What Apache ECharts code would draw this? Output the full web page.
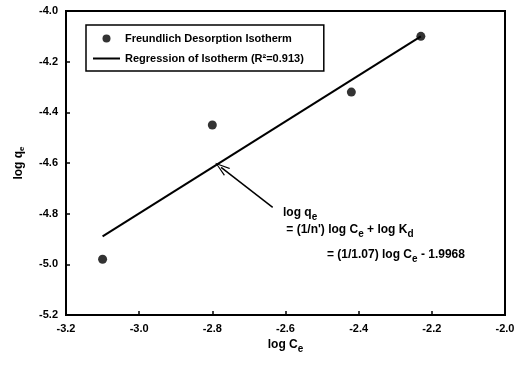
<!DOCTYPE html>
<html>
<head>
  <meta charset="utf-8">
  <title>Freundlich isotherm</title>
  <script src="https://cdn.jsdelivr.net/npm/echarts@6/dist/echarts.min.js"></script>
  <style>
    html, body { margin: 0; padding: 0; background: #fff; }
    #chart { width: 521px; height: 368px; }
  </style>
</head>
<body>
<div id="chart"></div>
<script>
  // data
  var logCe = [-3.10, -2.80, -2.42, -2.23];
  var logQe = [-4.98, -4.45, -4.32, -4.10];
  // regression line ends
  var fitX = [-3.10, -2.23];
  var fitY = [-4.89, -4.10];
  // arrow from the equation to the line (end pulled back so the head sits on the line)
  var arrowFrom = [-2.635, -4.775];
  var arrowTo = [-2.776, -4.617];
  var xTicks = [-3.2, -3.0, -2.8, -2.6, -2.4, -2.2, -2.0];
  var yTicks = [-5.2, -5.0, -4.8, -4.6, -4.4, -4.2, -4.0];

  var font = '"Liberation Sans", Arial, sans-serif';
  var chart = echarts.init(document.getElementById('chart'));

  var pts = logCe.map(function (x, i) { return [x, logQe[i]]; });
  var fit = fitX.map(function (x, i) { return [x, fitY[i]]; });

  var axisCommon = {
    axisLine: { show: true, onZero: false, lineStyle: { color: '#000', width: 2 } },
    axisTick: { show: true, inside: true, length: 4, lineStyle: { color: '#000', width: 1.5 } },
    splitLine: { show: false },
    axisLabel: {
      color: '#000', fontFamily: font, fontWeight: 'bold', fontSize: 11,
      formatter: function (v) { return v.toFixed(1); }
    },
    nameLocation: 'middle',
    nameTextStyle: { color: '#000', fontFamily: font, fontWeight: 'bold', fontSize: 12 }
  };

  var option = {
    animation: false,
    grid: { left: 66, right: 16, top: 11, bottom: 53, show: true, borderColor: '#000', borderWidth: 2 },
    xAxis: Object.assign({}, axisCommon, {
      type: 'value', min: xTicks[0], max: xTicks[xTicks.length - 1], interval: 0.2,
      name: '{n|log C}{s|e}', nameGap: 18,
      nameTextStyle: {
        rich: {
          n: { color: '#000', fontFamily: font, fontWeight: 'bold', fontSize: 12 },
          s: { color: '#000', fontFamily: font, fontWeight: 'bold', fontSize: 10, padding: [8, 0, 0, 0] }
        }
      }
    }),
    yAxis: Object.assign({}, axisCommon, {
      type: 'value', min: yTicks[0], max: yTicks[yTicks.length - 1], interval: 0.2,
      name: '{n|log q}{s|e}', nameGap: 40,
      nameTextStyle: {
        rich: {
          n: { color: '#000', fontFamily: font, fontWeight: 'bold', fontSize: 12 },
          s: { color: '#000', fontFamily: font, fontWeight: 'bold', fontSize: 8, padding: [6, 0, 0, 0] }
        }
      }
    }),
    legend: {
      orient: 'vertical', left: 86, top: 25,
      padding: [8, 20, 7, 7], itemGap: 9,
      borderColor: '#000', borderWidth: 1.5,
      itemWidth: 27, itemHeight: 8,
      textStyle: { color: '#000', fontFamily: font, fontWeight: 'bold', fontSize: 11 },
      data: [
        { name: 'Freundlich Desorption Isotherm', icon: 'circle' },
        { name: 'Regression of Isotherm (R\u00b2=0.913)', icon: 'path://M0,0 L27,0 L27,2 L0,2 Z' }
      ]
    },
    series: [
      {
        name: 'Freundlich Desorption Isotherm',
        type: 'scatter',
        data: pts,
        symbol: 'circle', symbolSize: 9,
        itemStyle: { color: '#000' },
        z: 3
      },
      {
        name: 'Regression of Isotherm (R\u00b2=0.913)',
        type: 'line',
        data: fit,
        symbol: 'none',
        lineStyle: { color: '#000', width: 2 },
        itemStyle: { color: '#000' },
        markLine: {
          silent: true,
          symbol: ['none', 'path://M5,0 L10,14 L8.6,14 L5,3 L1.4,14 L0,14 Z'],
          symbolSize: [10, 15],
          label: { show: false },
          lineStyle: { color: '#000', width: 1.5, type: 'solid' },
          data: [[{ coord: arrowFrom }, { coord: arrowTo }]]
        }
      }
    ],
    graphic: [
      {
        type: 'text', left: 283, top: 204,
        style: {
          text: '{n|log q}{s|e}\n {n|= (1/n\') log C}{s|e}{n| + log K}{s|d}',
          rich: {
            n: { fill: '#000', fontFamily: font, fontWeight: 'bold', fontSize: 12, lineHeight: 17 },
            s: { fill: '#000', fontFamily: font, fontWeight: 'bold', fontSize: 10, padding: [8, 0, 0, 0], lineHeight: 17 }
          }
        }
      },
      {
        type: 'text', left: 327, top: 246,
        style: {
          text: '{n|= (1/1.07) log C}{s|e}{n| - 1.9968}',
          rich: {
            n: { fill: '#000', fontFamily: font, fontWeight: 'bold', fontSize: 12, lineHeight: 17 },
            s: { fill: '#000', fontFamily: font, fontWeight: 'bold', fontSize: 10, padding: [8, 0, 0, 0], lineHeight: 17 }
          }
        }
      }
    ]
  };

  chart.setOption(option);
</script>
</body>
</html>
